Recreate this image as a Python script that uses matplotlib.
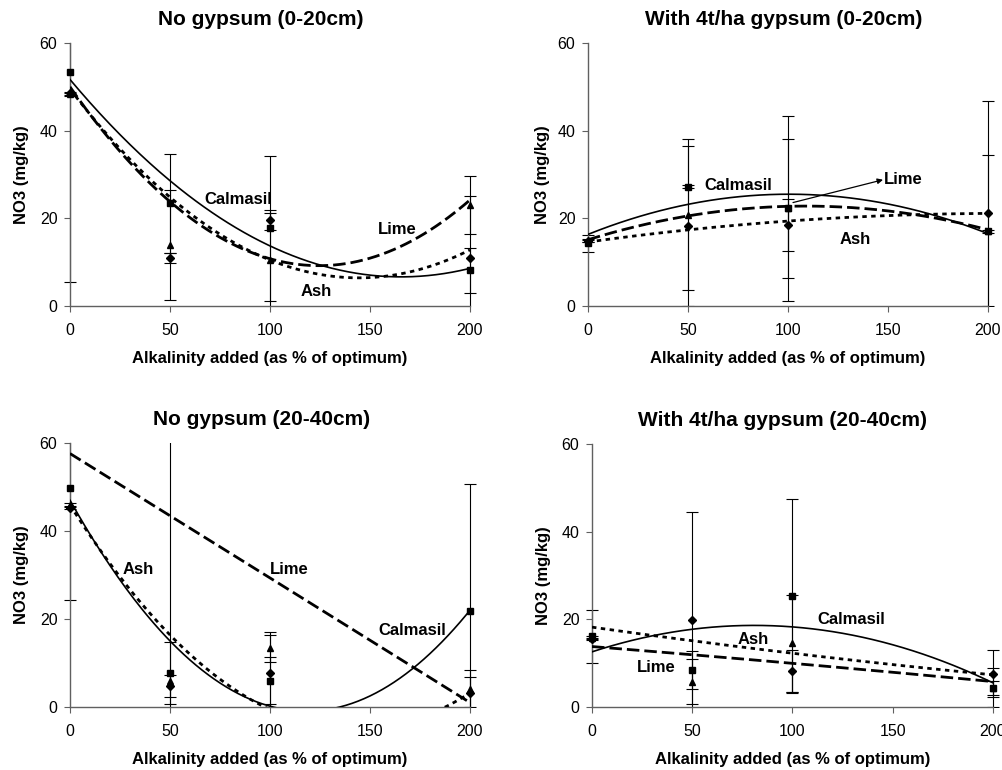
import numpy as np
import matplotlib.pyplot as plt
from matplotlib.transforms import Bbox, TransformedBbox

plt.rcParams['font.family'] = ['Liberation Sans', 'DejaVu Sans']

x_pts = [0, 50, 100, 200]
x_trend = [0, 50, 100, 150, 200]

# --- No gypsum (0-20cm)
ash_1 = [48.5, 10.9, 19.6, 10.9]
ash_err_1 = [0.3, 1.2, 2.2, 14.1]
cal_1 = [53.3, 23.4, 17.7, 8.1]
cal_err_1 = [47.8, 11.2, 16.6, 5.2]
lime_1 = [48.3, 13.9, 10.5, 23.1]
lime_err_1 = [0.3, 12.6, 10.8, 6.6]
ash_tr_1 = [49.5, 24.8, 10.5, 6.5, 12.8]
cal_tr_1 = [51.6, 28.8, 13.5, 7.1, 8.6]
lime_tr_1 = [50.0, 23.8, 10.8, 10.9, 24.2]

# --- With 4t/ha gypsum (0-20cm)
ash_2 = [14.8, 18.3, 18.5, 21.2]
ash_err_2 = [0.3, 18.3, 5.9, 25.6]
cal_2 = [14.3, 27.2, 22.3, 17.0]
cal_err_2 = [1.9, 0.3, 21.1, 0.3]
lime_2 = [14.9, 20.8, 22.3, 17.2]
lime_err_2 = [0.3, 17.2, 15.8, 17.3]
ash_tr_2 = [14.5, 17.6, 19.3, 20.5, 21.2]
cal_tr_2 = [16.3, 23.3, 25.4, 23.3, 16.5]
lime_tr_2 = [15.0, 20.8, 22.7, 21.5, 17.5]

# --- No gypsum (20-40cm)
ash_3 = [45.2, 4.8, 7.7, 3.1]
ash_err_3 = [0.3, 2.45, 9.4, 3.7]
cal_3 = [49.8, 7.7, 6.0, 21.8]
cal_err_3 = [25.5, 7.0, 5.4, 28.9]
lime_3 = [46.0, 6.0, 13.3, 4.2]
lime_err_3 = [0.3, 70.0, 3.0, 4.1]
ash_tr_3 = [46.3, 15.4, 0.0, -4.8, 3.0]
cal_tr_3 = [47.0, 15.0, 0.2, 2.5, 22.0]
lime_tr_3 = [57.6, 43.5, 29.3, 15.2, 1.0]

# --- With 4t/ha gypsum (20-40cm)
ash_4 = [15.5, 19.8, 8.2, 7.6]
ash_err_4 = [0.3, 24.6, 4.8, 5.3]
cal_4 = [16.1, 8.45, 25.4, 4.4]
cal_err_4 = [6.0, 4.3, 22.1, 4.4]
lime_4 = [15.8, 5.8, 14.5, 4.3]
lime_err_4 = [0.3, 5.2, 11.1, 1.6]
ash_tr_4 = [18.3, 14.9, 12.4, 9.7, 7.3]
cal_tr_4 = [12.6, 17.7, 18.3, 14.2, 5.5]
lime_tr_4 = [13.8, 11.9, 10.0, 7.9, 5.8]

styles = {
    'Calmasil': dict(marker='s', ms=4.5, ls='-', lw=1.2, dashes=None),
    'Lime': dict(marker='^', ms=5, ls='--', lw=2.0, dashes=(4.5, 1.8)),
    'Ash': dict(marker='D', ms=4, ls='--', lw=2.0, dashes=(1.6, 1.6)),
}
axis_grey = '#606060'


def draw_panel(ax, title, title_x, ylab_x, series, labels):
    xs = np.linspace(0, 200, 201)
    # clip box that is a bit wider than the axes, so caps at 0 and 200 show
    box = TransformedBbox(Bbox([[-0.05, 0], [1.05, 1]]), ax.transAxes)
    for name, mean, err, trend in series:
        st = styles[name]
        eb = ax.errorbar(x_pts, mean, yerr=err, fmt='none', ecolor='black',
                         elinewidth=0.8, capsize=4, capthick=0.8)
        for part in eb.lines[1] + eb.lines[2]:
            part.set_clip_box(box)
        ax.plot(x_pts, mean, st['marker'], ms=st['ms'], color='black',
                clip_on=False, zorder=4)
        coef = np.polyfit(x_trend, trend, 2)
        ln, = ax.plot(xs, np.polyval(coef, xs), color='black', lw=st['lw'],
                      ls=st['ls'], zorder=3)
        if st['dashes'] is not None:
            ln.set_dashes(st['dashes'])
    for txt, (tx, ty) in labels.items():
        ax.text(tx, ty, txt, fontsize=12, fontweight='bold', ha='left', va='center')

    ax.set_xlim(0, 200)
    ax.set_ylim(0, 60)
    ax.set_xticks([0, 50, 100, 150, 200])
    ax.set_yticks([0, 20, 40, 60])
    for s in ['top', 'right']:
        ax.spines[s].set_visible(False)
    for s in ['left', 'bottom']:
        ax.spines[s].set_color(axis_grey)
        ax.spines[s].set_linewidth(1.0)
    ax.tick_params(axis='both', direction='out', length=4, width=0.8,
                   color=axis_grey, labelsize=11.5)
    ax.tick_params(axis='x', pad=8)
    ax.tick_params(axis='y', pad=5)
    ax.set_xlabel('Alkalinity added (as % of optimum)', fontsize=12, fontweight='bold')
    ax.set_ylabel('NO3 (mg/kg)', fontsize=12, fontweight='bold')
    ax.xaxis.set_label_coords(0.5, -0.17)
    ax.yaxis.set_label_coords(ylab_x, 0.5)
    ax.text(title_x, 1.09, title, transform=ax.transAxes, fontsize=15,
            fontweight='bold', ha='center', va='center')


fig = plt.figure(figsize=(10.03, 7.70), dpi=100)
ax1 = fig.add_axes([70 / 1003, 1 - 306 / 770, 400 / 1003, 263 / 770])
ax2 = fig.add_axes([588 / 1003, 1 - 306 / 770, 400 / 1003, 263 / 770])
ax3 = fig.add_axes([70 / 1003, 1 - 707 / 770, 400 / 1003, 264 / 770])
ax4 = fig.add_axes([592 / 1003, 1 - 707 / 770, 401 / 1003, 263 / 770])

draw_panel(ax1, 'No gypsum (0-20cm)', 0.478, -0.1025,
           [('Calmasil', cal_1, cal_err_1, cal_tr_1),
            ('Lime', lime_1, lime_err_1, lime_tr_1),
            ('Ash', ash_1, ash_err_1, ash_tr_1)],
           {'Calmasil': (67, 24.4), 'Lime': (153.8, 17.5), 'Ash': (115.5, 3.4)})

draw_panel(ax2, 'With 4t/ha gypsum (0-20cm)', 0.49, -0.095,
           [('Calmasil', cal_2, cal_err_2, cal_tr_2),
            ('Lime', lime_2, lime_err_2, lime_tr_2),
            ('Ash', ash_2, ash_err_2, ash_tr_2)],
           {'Calmasil': (58, 27.4), 'Lime': (148, 28.8), 'Ash': (126, 15.2)})
ax2.annotate('', xy=(147.5, 28.8), xytext=(102.5, 23.6),
             arrowprops=dict(arrowstyle='-|>', color='black', lw=0.9,
                             mutation_scale=8, shrinkA=0, shrinkB=0))

draw_panel(ax3, 'No gypsum (20-40cm)', 0.479, -0.1025,
           [('Calmasil', cal_3, cal_err_3, cal_tr_3),
            ('Lime', lime_3, lime_err_3, lime_tr_3),
            ('Ash', ash_3, ash_err_3, ash_tr_3)],
           {'Ash': (26.5, 31.2), 'Lime': (99.7, 31.2), 'Calmasil': (154, 17.3)})

draw_panel(ax4, 'With 4t/ha gypsum (20-40cm)', 0.476, -0.1025,
           [('Calmasil', cal_4, cal_err_4, cal_tr_4),
            ('Lime', lime_4, lime_err_4, lime_tr_4),
            ('Ash', ash_4, ash_err_4, ash_tr_4)],
           {'Calmasil': (112.6, 20.0), 'Ash': (72.8, 15.3), 'Lime': (22.3, 9.0)})

fig.savefig('out.png', dpi=100)
